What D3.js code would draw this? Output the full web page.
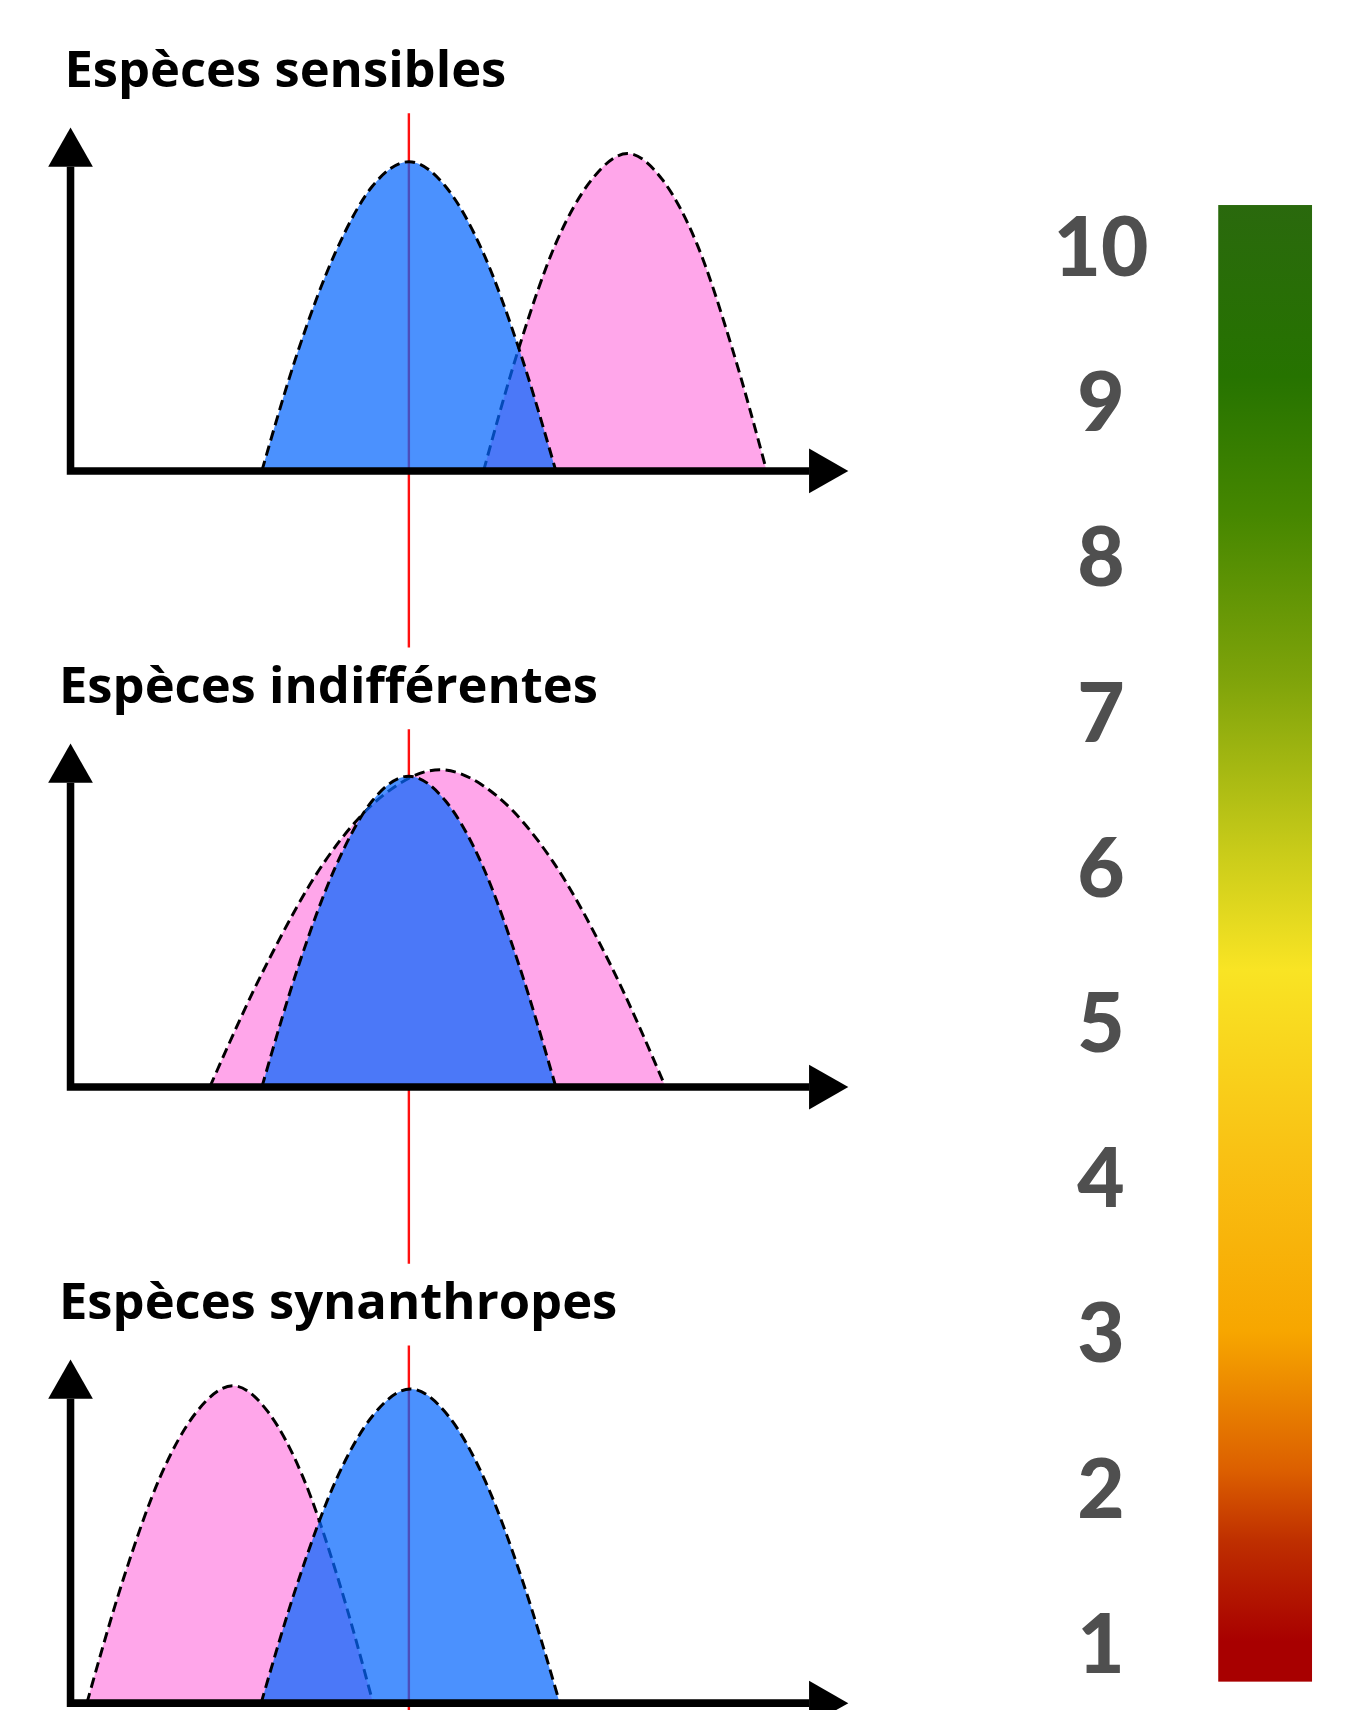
<!DOCTYPE html>
<html>
<head>
<meta charset="utf-8">
<script src="https://cdn.jsdelivr.net/npm/d3@7"></script>
<style>
  body { margin: 0; background: #fff; }
  svg { display: block; }
  .title { font-family: "Open Sans", "Noto Sans", sans-serif; font-weight: 700; }
  .rating { font-family: Lato, "Open Sans", sans-serif; font-weight: 900; }
</style>
</head>
<body>
<svg id="chart"></svg>
<script>

// panel titles, top to bottom
var panelTitles = ['Espèces sensibles', 'Espèces indifférentes', 'Espèces synanthropes'];

// optimum of the reference habitat on the gradient (red line)
var optimum = 43.5;

// curves read off the picture : position on the gradient (0-100) / abundance (0-100)
// blue = reference habitat, pink = species
var sensiblesBlueX = [24.6, 29.3, 34.1, 38.8, 43.5, 48.2, 53.0, 57.7, 62.4];
var sensiblesBlueY = [0, 37, 67, 87, 94.5, 87, 67, 37, 0];
var sensiblesPinkX = [53.1, 57.7, 62.3, 67.0, 71.6, 76.1, 80.6, 85.0, 89.5];
var sensiblesPinkY = [0, 38, 69, 89, 97, 89, 69, 38, 0];

var indifBlueX = [24.6, 29.3, 34.1, 38.8, 43.5, 48.2, 53.0, 57.7, 62.4];
var indifBlueY = [0, 37, 67.5, 87.5, 95, 87.5, 67.5, 37, 0];
var indifPinkX = [17.9, 25.3, 32.7, 40.1, 47.5, 54.8, 62.0, 69.3, 76.5];
var indifPinkY = [0, 38, 69, 89, 97, 89, 69, 38, 0];

var synBlueX = [24.5, 29.3, 34.1, 38.9, 43.7, 48.5, 53.3, 58.1, 62.9];
var synBlueY = [0, 37.5, 68, 88, 96, 88, 68, 37.5, 0];
var synPinkX = [2.1, 6.8, 11.5, 16.2, 20.9, 25.4, 29.9, 34.4, 38.9];
var synPinkY = [0, 38, 69, 89, 97, 89, 69, 38, 0];

// colour scale on the right
var ratings = [10, 9, 8, 7, 6, 5, 4, 3, 2, 1];
var barOffsets = [0, 0.116, 0.21, 0.32, 0.443, 0.518, 0.644, 0.763, 0.857, 0.906, 0.973, 1];
var barColors = ['#2a690d', '#267300', '#468700', '#7ea30a', '#cccd1a', '#f9e424',
                 '#f9c114', '#f7a600', '#dc5f00', '#be2e00', '#a80000', '#a80000'];

var panels = [
    {blue: d3.zip(sensiblesBlueX, sensiblesBlueY), pink: d3.zip(sensiblesPinkX, sensiblesPinkY)},
    {blue: d3.zip(indifBlueX, indifBlueY), pink: d3.zip(indifPinkX, indifPinkY)},
    {blue: d3.zip(synBlueX, synBlueY), pink: d3.zip(synPinkX, synPinkY)}
];

//---------------------------------------------------------------------------------------
// LAYOUT (drawn in a 1246x1568 box, shown at 1359x1710)
//---------------------------------------------------------------------------------------

var _svg = d3.select('#chart')
    .attr('width', 1359)
    .attr('height', 1710)
    .attr('viewBox', '0 0 1246 1568');

var _panelBase = [431.8, 996.8, 1561.7];
var _titleX = [59, 54, 54];
var _axisWidth = 6.9;
var _arrowLen = 36;
var _arrowHalf = 20.5;

var x = d3.scaleLinear().domain([0, 100]).range([64.6, 777.8]);
var y = d3.scaleLinear().domain([0, 100]).range([0, -300]);
var _axisTop = -279;

var area = d3.area()
    .x(function (d) { return x(d[0]); })
    .y0(y(0))
    .y1(function (d) { return y(d[1]); })
    .curve(d3.curveMonotoneX);

var outline = d3.line()
    .x(function (d) { return x(d[0]); })
    .y(function (d) { return y(d[1]); })
    .curve(d3.curveMonotoneX);

var drawCurve = function (g, pts, fill, opacity) {
    g.append('path')
        .attr('d', area(pts))
        .style('fill', fill)
        .style('fill-opacity', opacity);
    g.append('path')
        .attr('d', outline(pts))
        .style('fill', 'none')
        .style('stroke', '#000')
        .style('stroke-width', 2.7)
        .style('stroke-dasharray', '9.5,5');
};

//---------------------------------------------------------------------------------------
// PANELS
//---------------------------------------------------------------------------------------

panels.forEach(function (p, i) {
    var g = _svg.append('g').attr('transform', 'translate(0,' + _panelBase[i] + ')');

    g.append('text')
        .attr('class', 'title')
        .attr('x', _titleX[i])
        .attr('y', -352)
        .style('font-size', '46.5px')
        .style('fill', '#000')
        .text(panelTitles[i]);

    g.append('line')
        .attr('x1', x(optimum)).attr('x2', x(optimum))
        .attr('y1', -328).attr('y2', 162)
        .style('stroke', '#ff1010')
        .style('stroke-width', 2.2);

    drawCurve(g, p.pink, '#ffa6ea', 1);
    drawCurve(g, p.blue, 'rgb(6,102,254)', 0.72);

    var x0 = x(0), xEnd = x(100);
    g.append('path')
        .attr('d', 'M' + x0 + ',' + _axisTop + 'V0H' + (xEnd - _arrowLen))
        .style('fill', 'none')
        .style('stroke', '#000')
        .style('stroke-width', _axisWidth)
        .style('stroke-linejoin', 'miter');

    g.append('path')
        .attr('d', 'M' + x0 + ',' + (_axisTop - _arrowLen) +
            'L' + (x0 - _arrowHalf) + ',' + _axisTop +
            'L' + (x0 + _arrowHalf) + ',' + _axisTop + 'Z')
        .style('fill', '#000');

    g.append('path')
        .attr('d', 'M' + xEnd + ',0' +
            'L' + (xEnd - _arrowLen) + ',' + (-_arrowHalf) +
            'L' + (xEnd - _arrowLen) + ',' + _arrowHalf + 'Z')
        .style('fill', '#000');
});

//---------------------------------------------------------------------------------------
// COLOUR SCALE
//---------------------------------------------------------------------------------------

var grad = _svg.append('defs').append('linearGradient')
    .attr('id', 'scoreGrad')
    .attr('x1', 0).attr('y1', 0).attr('x2', 0).attr('y2', 1);

grad.selectAll('stop')
    .data(barOffsets)
  .enter().append('stop')
    .attr('offset', function (d) { return d; })
    .attr('stop-color', function (d, i) { return barColors[i]; });

_svg.append('rect')
    .attr('x', 1117)
    .attr('y', 188)
    .attr('width', 86)
    .attr('height', 1354)
    .style('fill', 'url(#scoreGrad)');

var ratingY = d3.scaleLinear().domain([10, 1]).range([226, 1507]);

_svg.selectAll('.rating')
    .data(ratings)
  .enter().append('text')
    .attr('class', 'rating')
    .attr('x', 1009.5)
    .attr('y', function (d) { return ratingY(d); })
    .attr('dy', '0.36em')
    .style('text-anchor', 'middle')
    .style('font-size', '75px')
    .style('fill', '#4f4f4f')
    .text(function (d) { return d; });

</script>
</body>
</html>
